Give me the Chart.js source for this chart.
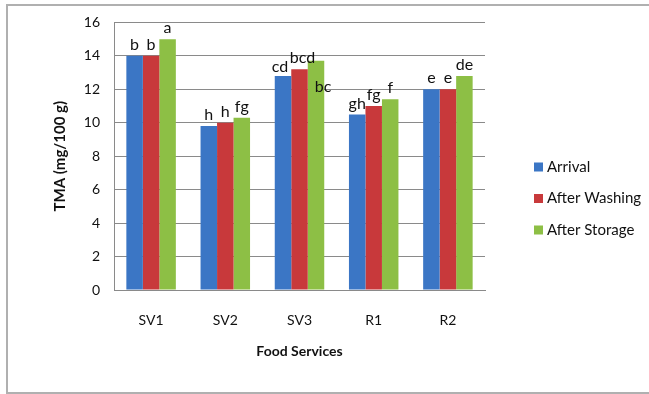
<!DOCTYPE html>
<html>
<head>
<meta charset="utf-8">
<script src="https://cdn.jsdelivr.net/npm/chart.js@4"></script>
<style>
  html, body { margin: 0; padding: 0; background: #fff; }
  #wrap { position: relative; width: 649px; height: 394px; }
  #frame { position: absolute; left: 6px; top: 4px; width: 660px; height: 386px;
           border-left: 2px solid #b0b0b0; border-top: 2px solid #b0b0b0; border-bottom: 2px solid #b0b0b0; }
  canvas { position: absolute; left: 0; top: 0; }
</style>
</head>
<body>
<div id="wrap">
  <div id="frame"></div>
  <canvas id="tmaChart" width="649" height="394"></canvas>
</div>
<script>
// ===== datos =====
const categories = ['SV1', 'SV2', 'SV3', 'R1', 'R2'];
const seriesNames = ['Arrival', 'After Washing', 'After Storage'];
const arrival = [14, 9.8, 12.8, 10.5, 12];
const afterWashing = [14, 10, 13.2, 11, 12];
const afterStorage = [15, 10.3, 13.7, 11.4, 12.8];
const letters = [
    ['b', 'h', 'cd', 'gh', 'e'],
    ['b', 'h', 'bcd', 'fg', 'e'],
    ['a', 'fg', 'bc', 'f', 'de']
];
const yTicks = [0, 2, 4, 6, 8, 10, 12, 14, 16];

const colors = ['#3B76C5', '#C8393B', '#8DBF45'];
const fontFam = 'Lato, "Open Sans", sans-serif';

// letras encima de las barras (la "bc" de SV3 está desplazada en el original)
const letterPlugin = {
    id: 'letters',
    afterDatasetsDraw(chart) {
        const ctx = chart.ctx;
        ctx.save();
        ctx.font = '16px ' + fontFam;
        ctx.fillStyle = '#111';
        ctx.textAlign = 'center';
        ctx.textBaseline = 'middle';
        chart.data.datasets.forEach((ds, i) => {
            chart.getDatasetMeta(i).data.forEach((bar, j) => {
                let dx = 0, dy = -11;
                if (i === 2 && j === 2) { dx = 7; dy = 26; }
                if (i === 0 && j === 2) { dx = -3; dy = -9; }
                if (i === 1 && j === 2) { dx = 3; }
                ctx.fillText(letters[i][j], bar.x + dx, bar.y + dy);
            });
        });
        ctx.restore();
    }
};

// leyenda a la derecha
const legendPlugin = {
    id: 'sideLegend',
    afterDraw(chart) {
        const ctx = chart.ctx;
        ctx.save();
        ctx.font = '15px ' + fontFam;
        ctx.textBaseline = 'middle';
        ctx.textAlign = 'left';
        chart.data.datasets.forEach((ds, i) => {
            const y = 167 + i * 31.5;
            ctx.fillStyle = ds.backgroundColor;
            ctx.fillRect(534, y - 4.5, 9, 9);
            ctx.fillStyle = '#111';
            ctx.fillText(ds.label, 547, y);
        });
        ctx.restore();
    }
};

const ctx = document.getElementById('tmaChart').getContext('2d');
new Chart(ctx, {
    type: 'bar',
    data: {
        labels: categories,
        datasets: [arrival, afterWashing, afterStorage].map((d, i) => ({
            label: seriesNames[i],
            data: d,
            backgroundColor: colors[i],
            borderWidth: 0,
            categoryPercentage: 0.667,
            barPercentage: 1
        }))
    },
    options: {
        responsive: false,
        animation: false,
        layout: { padding: { left: 0, top: 20, right: 164, bottom: 0 } },
        plugins: {
            legend: { display: false },
            tooltip: { enabled: false }
        },
        scales: {
            x: {
                grid: { display: false, drawTicks: false },
                border: { color: '#8a8a8a', width: 1 },
                ticks: { color: '#111', font: { family: fontFam, size: 14 }, padding: 22 },
                title: {
                    display: true, text: 'Food Services', color: '#111',
                    font: { family: fontFam, size: 14, weight: 'bold' },
                    padding: { top: 0, bottom: 34 }
                },
                afterFit(s) { s.height = 104; }
            },
            y: {
                min: 0, max: 16,
                afterBuildTicks(s) { s.ticks = yTicks.map(v => ({ value: v })); },
                grid: { color: '#8a8a8a', lineWidth: 1, drawTicks: false },
                border: { color: '#8a8a8a', width: 1 },
                ticks: { color: '#111', font: { family: fontFam, size: 14 }, padding: 14 },
                title: {
                    display: true, text: 'TMA (mg/100 g)', color: '#111',
                    font: { family: fontFam, size: 15, weight: 'bold' },
                    padding: { top: 51, bottom: 0 }
                },
                afterFit(s) { s.width = 114; }
            }
        }
    },
    plugins: [letterPlugin, legendPlugin]
});
</script>
</body>
</html>
